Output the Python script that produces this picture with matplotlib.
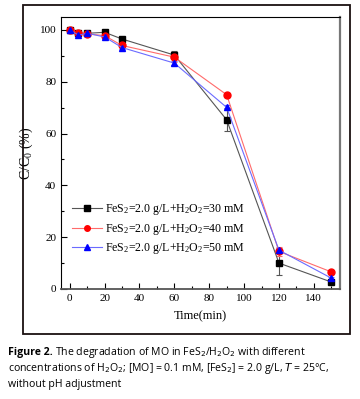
import numpy as np
import matplotlib
matplotlib.use("Agg")
from matplotlib.ticker import MultipleLocator
from matplotlib.patches import Rectangle
from matplotlib.lines import Line2D
import matplotlib.pyplot as plt

time = [0, 5, 10, 20, 30, 60, 90, 120, 150]
c_30mM = [100, 98.7, 98.7, 99.1, 96.5, 90.3, 65.3, 10.0, 2.7]
c_40mM = [100, 98.9, 98.5, 97.8, 94.0, 89.5, 75.0, 14.5, 6.6]
c_50mM = [100, 98.0, 98.7, 97.3, 93.2, 87.2, 70.1, 15.0, 4.2]
err_30mM = [0.5, 0.5, 0.5, 0.8, 0.8, 1.5, 4.5, 4.5, 0.5]
err_40mM = [0.5, 0.5, 0.5, 0.5, 0.8, 1.8, 0.8, 1.8, 0.8]
err_50mM = [0.3, 0.3, 0.3, 0.3, 0.5, 0.8, 1.0, 1.0, 0.5]
labels = ["FeS$_2$=2.0 g/L+H$_2$O$_2$=30 mM",
          "FeS$_2$=2.0 g/L+H$_2$O$_2$=40 mM",
          "FeS$_2$=2.0 g/L+H$_2$O$_2$=50 mM"]

STYLES = [
    {"color": "#555555", "mfc": "black", "mec": "black", "marker": "s", "ecolor": "#555555"},
    {"color": "#ff6b6b", "mfc": "red", "mec": "red", "marker": "o", "ecolor": "#ff6b6b"},
    {"color": "#6b6bff", "mfc": "blue", "mec": "blue", "marker": "^", "ecolor": "#6b6bff"},
]

matplotlib.rcParams["font.family"] = "Liberation Serif"
matplotlib.rcParams["mathtext.fontset"] = "custom"
matplotlib.rcParams["mathtext.rm"] = "Liberation Serif"
matplotlib.rcParams["mathtext.it"] = "Liberation Serif:italic"

fig = plt.figure(figsize=(3.6, 3.99), dpi=100)
W, H = 360.0, 399.0

# outer frame
fig.add_artist(Rectangle((23 / W, 1 - 334 / H), 327 / W, 329 / H,
                         transform=fig.transFigure, fill=False,
                         edgecolor="#1a1010", linewidth=1.3))

ax = fig.add_axes([61 / W, 1 - 289 / H, 279 / W, 272 / H])

for y, e, st, lab in zip([c_30mM, c_40mM, c_50mM],
                         [err_30mM, err_40mM, err_50mM], STYLES, labels):
    ax.errorbar(time, y, yerr=e, color=st["color"], ecolor=st["ecolor"],
                marker=st["marker"], mfc=st["mfc"], mec=st["mec"],
                markersize=5, linewidth=0.8, elinewidth=0.8, capsize=2,
                capthick=0.8, label=lab)

ax.set_xlim(-5, 155)
ax.set_ylim(0, 105)
ax.xaxis.set_major_locator(MultipleLocator(20))
ax.xaxis.set_minor_locator(MultipleLocator(10))
ax.yaxis.set_major_locator(MultipleLocator(20))
ax.yaxis.set_minor_locator(MultipleLocator(10))
ax.tick_params(which="both", direction="in", top=False, right=False,
               labelsize=8, width=0.8)
ax.tick_params(which="major", length=4)
ax.tick_params(which="minor", length=2)
for s in ax.spines.values():
    s.set_linewidth(0.8)
ax.spines["right"].set_color("#777777")
ax.spines["right"].set_linewidth(1.6)
ax.spines["bottom"].set_color("#555555")
ax.spines["bottom"].set_linewidth(1.3)

ax.set_xlabel("Time(min)", fontsize=9, labelpad=5)
ax.set_ylabel("C/C$_0$ (%)", fontsize=10, labelpad=3)

handles = [Line2D([], [], color=st["color"], marker=st["marker"],
                  mfc=st["mfc"], mec=st["mec"], markersize=4, linewidth=0.8)
           for st in STYLES]
ax.legend(handles, labels, loc="lower left", bbox_to_anchor=(0.0, 0.08),
          frameon=False, fontsize=8.6, handlelength=2.5, handletextpad=0.3,
          labelspacing=0.4)

# caption
cap_font = {"family": "Open Sans", "fontsize": 7.6}
t = fig.text(8 / W, 1 - 352 / H, "Figure 2.", fontweight="bold",
             va="center", ha="left", **cap_font)
fig.canvas.draw()
bb = t.get_window_extent()
fig.text(bb.x1 / (W) + 2.5 / W, 1 - 352 / H,
         "The degradation of MO in FeS$_2$/H$_2$O$_2$ with different",
         va="center", ha="left", math_fontfamily="dejavusans", **cap_font)
fig.text(8 / W, 1 - 369 / H,
         "concentrations of H$_2$O$_2$; [MO] = 0.1 mM, [FeS$_2$] = 2.0 g/L, "
         "$T$ = 25°C,",
         va="center", ha="left", math_fontfamily="dejavusans", **cap_font)
fig.text(8 / W, 1 - 385 / H, "without pH adjustment",
         va="center", ha="left", **cap_font)

fig.savefig("out.png", dpi=100)
